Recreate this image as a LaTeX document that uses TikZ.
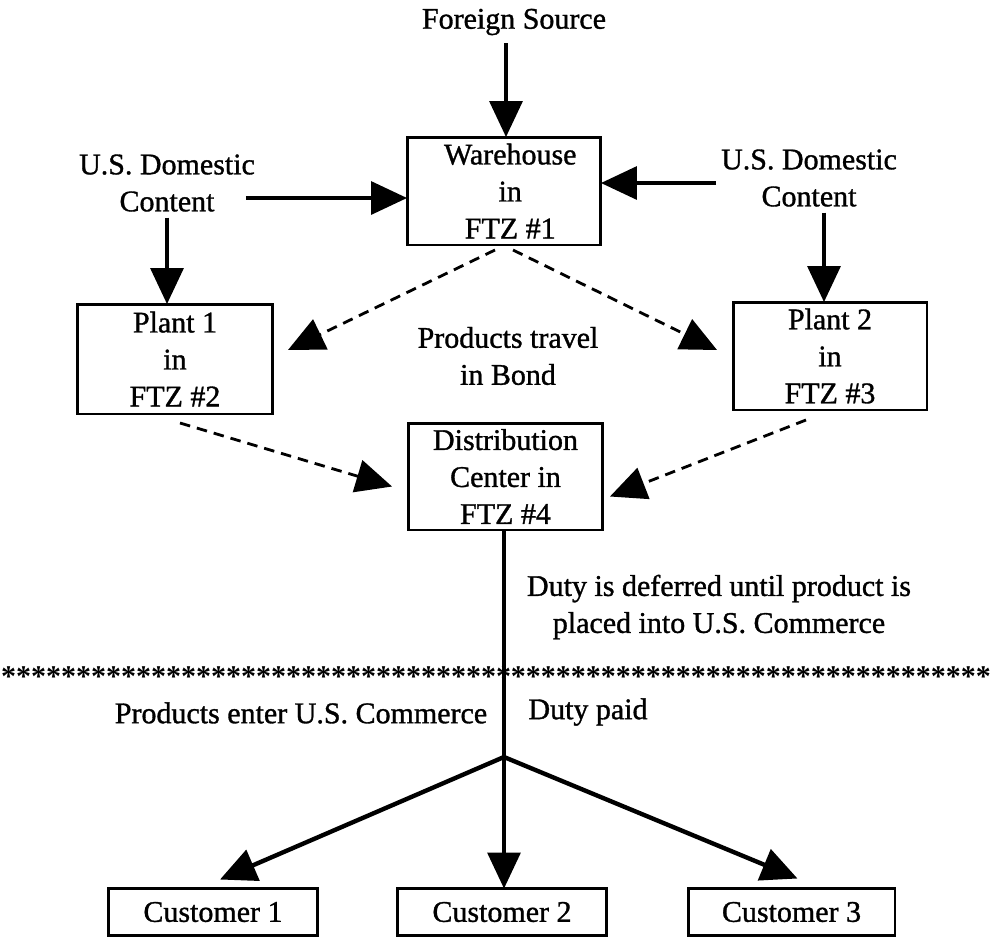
\documentclass[tikz,border=0pt]{standalone}
\usepackage{fontspec}
\setmainfont{Liberation Serif}[UprightFeatures={FakeBold=1.1}]
\usetikzlibrary{arrows.meta,calc}
\begin{document}
\begin{tikzpicture}[x=0.02cm,y=-0.02cm,
  every node/.style={font=\fontsize{17.07}{21.05}\selectfont, inner sep=0pt, outer sep=0pt, align=center},
  box/.style={draw, line width=1.7pt},
  tipstyle/.style={-{Triangle[length=0.72cm,width=0.66cm]}},
  arr/.style={line width=1.9pt, tipstyle},
  thickarr/.style={line width=2.5pt, tipstyle},
  darr/.style={line width=1.6pt, dash pattern=on 6pt off 4pt, tipstyle}]
\useasboundingbox (0,0) rectangle (1000,938);
% boxes
\node[box, minimum width=3.88cm, minimum height=2.16cm] (wh) at (504,191) {\hspace*{0.25cm}Warehouse\\\hspace*{0.25cm}in\\\hspace*{0.25cm}FTZ \#1};
\node[box, minimum width=3.92cm, minimum height=2.2cm] (p1) at (175,359) {Plant 1\\in\\FTZ \#2};
\node[box, minimum width=3.88cm, minimum height=2.16cm] (p2) at (830,356) {Plant 2\\in\\FTZ \#3};
\node[box, minimum width=3.9cm, minimum height=2.14cm] (dc) at (505.5,476.5) {Distribution\\Center in\\FTZ \#4};
\node[box, minimum width=4.2cm, minimum height=0.94cm] (c1) at (213,912) {Customer 1};
\node[box, minimum width=4.2cm, minimum height=0.94cm] (c2) at (502,912) {Customer 2};
\node[box, minimum width=4.14cm, minimum height=0.94cm] (c3) at (791.5,912) {Customer 3};
% labels
\node (fs) at (514,22) {Foreign Source};
\node (ldc) at (167,183) {U.S. Domestic\\Content};
\node (rdc) at (809,178) {U.S. Domestic\\Content};
\node (ptb) at (508,356) {Products travel\\in Bond};
\node (duty) at (719,607) {Duty is deferred until product is\\placed into U.S. Commerce};
\node[anchor=base] (stars) at (496,686) {\bfseries ******************************************************************};
\node (pe) at (301,713) {Products enter U.S. Commerce};
\node (dp) at (588,712) {Duty paid};
% solid arrows
\draw[arr] ($(fs.south -| wh.north)+(2,8)$) -- ($(wh.north)+(2,0)$);
\coordinate (lstart) at ($(ldc.east)+(-9,15)$);
\draw[arr] (lstart) -- (lstart -| wh.west);
\coordinate (rstart) at ($(rdc.west)+(-5,5)$);
\draw[arr] (rstart) -- (rstart -| wh.east);
\coordinate (ldown) at ($(ldc.south)+(0,6)$);
\draw[arr] (ldown) -- (ldown |- p1.north);
\coordinate (rdown) at ($(rdc.south)+(15,6)$);
\draw[arr] (rdown) -- (rdown |- p2.north);
% dashed arrows
\coordinate (t1) at ($(p1.east)+(15,-9)$);
\coordinate (t2) at ($(p2.west)+(-16,-6)$);
\coordinate (t3) at ($(dc.west)+(-16,10)$);
\coordinate (t4) at ($(dc.east)+(7,20)$);
\draw[darr] ($(wh.south)+(-9,5)$) -- (t1);
\draw[darr] ($(wh.south)+(9,5)$) -- (t2);
\draw[darr] ($(p1.south)+(5,9)$) -- (t3);
\draw[darr] ($(p2.south)+(-24,10)$) -- (t4);
% distribution to customers
\draw[arr] ($(dc.south)+(-1.5,0)$) -- ($(dc.south |- c2.north)+(-1.5,0)$);
\coordinate (j) at ($(dc.south)+(-1.5,227)$);
\coordinate (t5) at ($(c1.north)+(7,-9)$);
\coordinate (t6) at ($(c3.north)+(6,-10)$);
\draw[thickarr] (j) -- (t5);
\draw[thickarr] (j) -- (t6);
\end{tikzpicture}
\end{document}
